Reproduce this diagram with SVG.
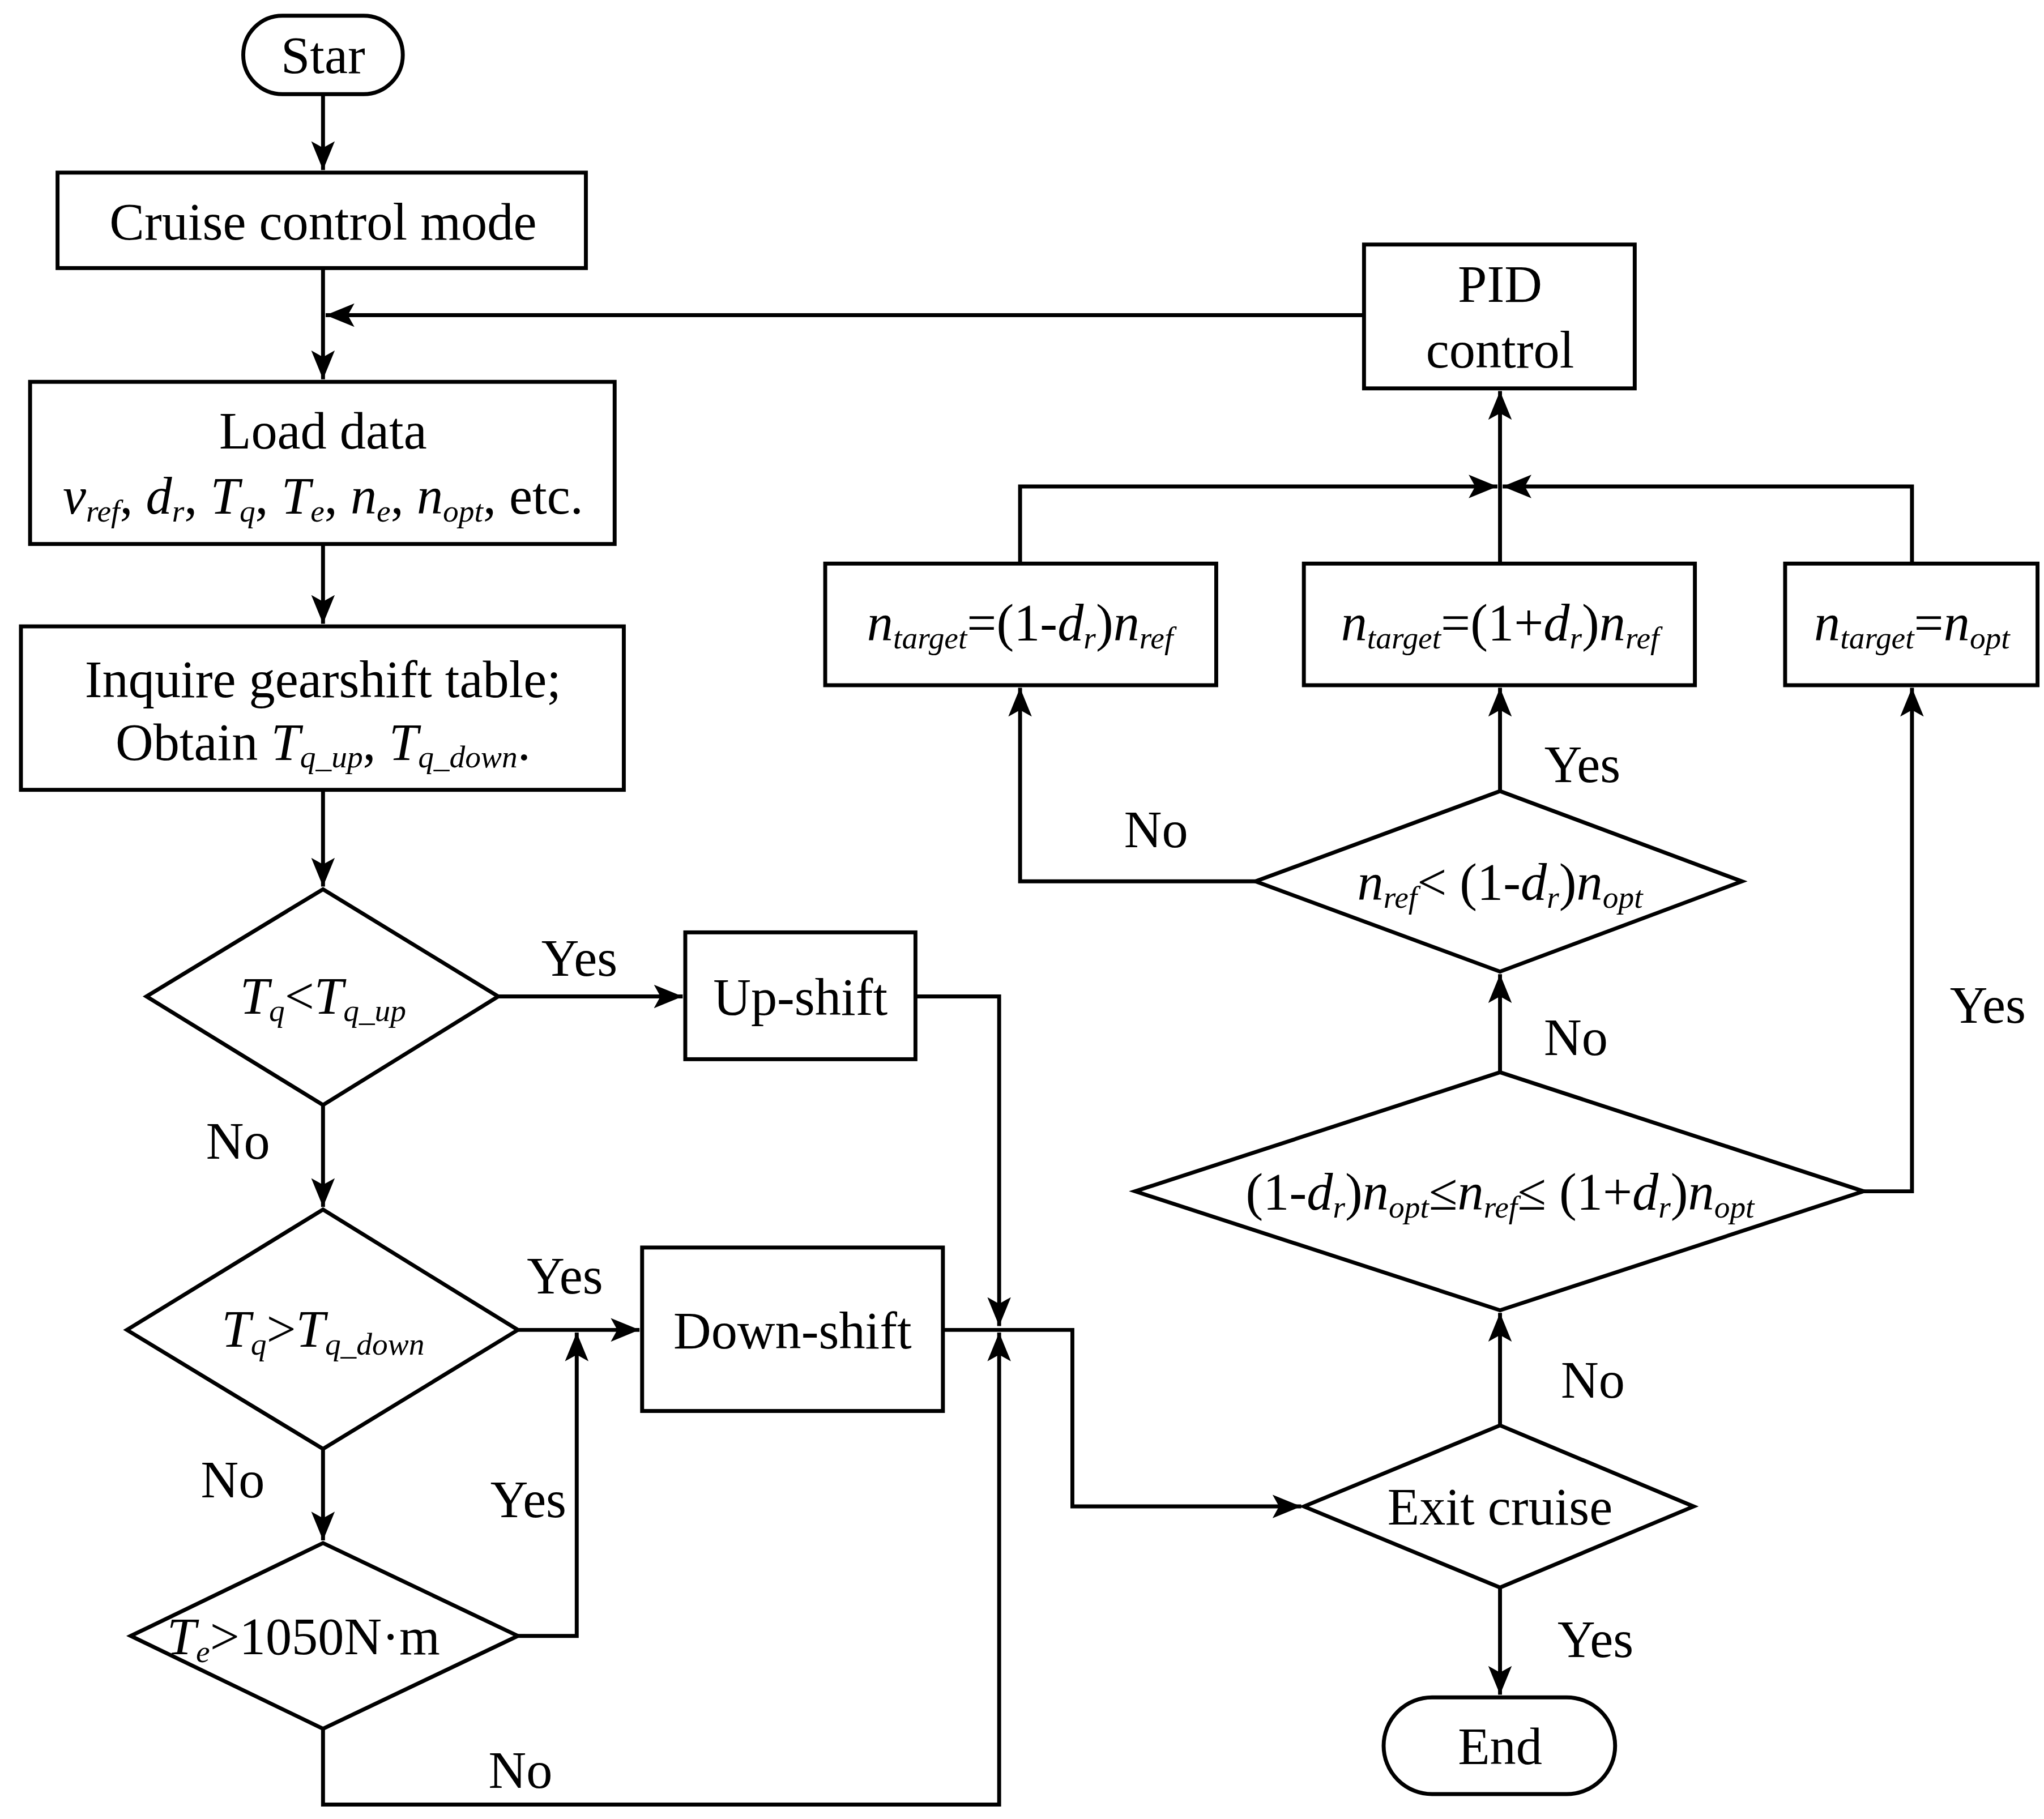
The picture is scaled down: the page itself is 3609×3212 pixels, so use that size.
<svg xmlns="http://www.w3.org/2000/svg" width="3609" height="3212" viewBox="0 0 3609 3212">
<style>
.s{fill:#fff;stroke:#000;stroke-width:3}
.c{fill:none;stroke:#000;stroke-width:3}
text{font-family:"Liberation Serif",serif;font-size:40px;fill:#000;text-anchor:middle}
.i{font-style:italic}
.b{font-size:24px}
</style>
<defs>
<marker id="a" markerUnits="userSpaceOnUse" viewBox="-22 -10 24 20" refX="0" refY="0" markerWidth="24" markerHeight="20" orient="auto">
<path d="M0,0 L-22,-9 L-17,0 L-22,9 Z" fill="#000"/>
</marker>
</defs>
<rect width="3609" height="3212" fill="#fff"/>
<g transform="scale(2.3091)">
<g id="connectors" class="c">
<path d="M247,72 V130" marker-end="url(#a)"/>
<path d="M247,205 V290" marker-end="url(#a)"/>
<path d="M1043,241 H249" marker-end="url(#a)"/>
<path d="M247,416 V477" marker-end="url(#a)"/>
<path d="M247,604 V678" marker-end="url(#a)"/>
<path d="M381,762 H522" marker-end="url(#a)"/>
<path d="M700,762 H764 V1014" marker-end="url(#a)"/>
<path d="M247,845 V923" marker-end="url(#a)"/>
<path d="M396,1017 H489" marker-end="url(#a)"/>
<path d="M721,1017 H820 V1152 H995" marker-end="url(#a)"/>
<path d="M247,1108 V1178" marker-end="url(#a)"/>
<path d="M396,1251 H441 V1019" marker-end="url(#a)"/>
<path d="M247,1322 V1380 H764 V1019" marker-end="url(#a)"/>
<path d="M1147,1214 V1296" marker-end="url(#a)"/>
<path d="M1147,1090 V1004" marker-end="url(#a)"/>
<path d="M1425,911 H1462 V526" marker-end="url(#a)"/>
<path d="M1147,820 V745" marker-end="url(#a)"/>
<path d="M1147,605 V526" marker-end="url(#a)"/>
<path d="M960,674 H780 V526" marker-end="url(#a)"/>
<path d="M780,431 V372 H1145" marker-end="url(#a)"/>
<path d="M1462,431 V372 H1149" marker-end="url(#a)"/>
<path d="M1147,431 V299" marker-end="url(#a)"/>
</g>
<g id="labels">
<text x="443" y="746">Yes</text>
<text x="182" y="886">No</text>
<text x="432" y="989">Yes</text>
<text x="178" y="1145">No</text>
<text x="404" y="1160">Yes</text>
<text x="398" y="1367">No</text>
<text x="1220" y="1267">Yes</text>
<text x="1218" y="1069">No</text>
<text x="1520" y="782">Yes</text>
<text x="1205" y="807">No</text>
<text x="1210" y="598">Yes</text>
<text x="884" y="648">No</text>
</g>
<g id="start"><rect class="s" x="186" y="12" width="122" height="60" rx="30"/><text x="247" y="56">Star</text></g>
<g id="cruise"><rect class="s" x="44" y="132" width="404" height="73"/><text x="247" y="183">Cruise control mode</text></g>
<g id="pid"><rect class="s" x="1043" y="187" width="207" height="110"/><text x="1147" y="231">PID</text><text x="1147" y="281">control</text></g>
<g id="load"><rect class="s" x="23" y="292" width="447" height="124"/><text x="247" y="343">Load data</text>
<text x="247" y="393"><tspan class="i">v</tspan><tspan class="i b" dy="6">ref</tspan><tspan dy="-6">, </tspan><tspan class="i">d</tspan><tspan class="i b" dy="6">r</tspan><tspan dy="-6">, </tspan><tspan class="i">T</tspan><tspan class="i b" dy="6">q</tspan><tspan dy="-6">, </tspan><tspan class="i">T</tspan><tspan class="i b" dy="6">e</tspan><tspan dy="-6">, </tspan><tspan class="i">n</tspan><tspan class="i b" dy="6">e</tspan><tspan dy="-6">, </tspan><tspan class="i">n</tspan><tspan class="i b" dy="6">opt</tspan><tspan dy="-6">, etc.</tspan></text></g>
<g id="inquire"><rect class="s" x="16" y="479" width="461" height="125"/><text x="247" y="533">Inquire gearshift table;</text>
<text x="247" y="581">Obtain <tspan class="i">T</tspan><tspan class="i b" dy="6">q_up</tspan><tspan dy="-6">, </tspan><tspan class="i">T</tspan><tspan class="i b" dy="6">q_down</tspan><tspan dy="-6">.</tspan></text></g>
<g id="d1"><path class="s" d="M112,762 L247,680 L381,762 L247,845 Z"/><text x="247" y="775"><tspan class="i">T</tspan><tspan class="i b" dy="6">q</tspan><tspan dy="-6">&lt;</tspan><tspan class="i">T</tspan><tspan class="i b" dy="6">q_up</tspan></text></g>
<g id="upshift"><rect class="s" x="524" y="713" width="176" height="97"/><text x="612" y="776">Up-shift</text></g>
<g id="d2"><path class="s" d="M97,1017 L247,925 L396,1017 L247,1108 Z"/><text x="247" y="1030"><tspan class="i">T</tspan><tspan class="i b" dy="6">q</tspan><tspan dy="-6">&gt;</tspan><tspan class="i">T</tspan><tspan class="i b" dy="6">q_down</tspan></text></g>
<g id="downshift"><rect class="s" x="491" y="954" width="230" height="125"/><text x="606" y="1031">Down-shift</text></g>
<g id="d3"><path class="s" d="M100,1251 L247,1180 L396,1251 L247,1322 Z"/><text x="232" y="1265"><tspan class="i">T</tspan><tspan class="i b" dy="6">e</tspan><tspan dy="-6">&gt;1050N·m</tspan></text></g>
<g id="exit"><path class="s" d="M997,1152 L1147,1090 L1295,1152 L1147,1214 Z"/><text x="1147" y="1166">Exit cruise</text></g>
<g id="end"><rect class="s" x="1058" y="1298" width="177" height="74" rx="37"/><text x="1147" y="1349">End</text></g>
<g id="d4"><path class="s" d="M868,911 L1147,820 L1425,911 L1147,1002 Z"/><text x="1147" y="925">(1-<tspan class="i">d</tspan><tspan class="i b" dy="6">r</tspan><tspan dy="-6">)</tspan><tspan class="i">n</tspan><tspan class="i b" dy="6">opt</tspan><tspan dy="-6">≤</tspan><tspan class="i">n</tspan><tspan class="i b" dy="6">ref</tspan><tspan dy="-6">≤ (1+</tspan><tspan class="i">d</tspan><tspan class="i b" dy="6">r</tspan><tspan dy="-6">)</tspan><tspan class="i">n</tspan><tspan class="i b" dy="6">opt</tspan></text></g>
<g id="d5"><path class="s" d="M960,674 L1147,605 L1332,674 L1147,743 Z"/><text x="1147" y="688"><tspan class="i">n</tspan><tspan class="i b" dy="6">ref</tspan><tspan dy="-6">&lt; (1-</tspan><tspan class="i">d</tspan><tspan class="i b" dy="6">r</tspan><tspan dy="-6">)</tspan><tspan class="i">n</tspan><tspan class="i b" dy="6">opt</tspan></text></g>
<g id="boxA"><rect class="s" x="631" y="431" width="299" height="93"/><text x="780" y="490"><tspan class="i">n</tspan><tspan class="i b" dy="6">target</tspan><tspan dy="-6">=(1-</tspan><tspan class="i">d</tspan><tspan class="i b" dy="6">r</tspan><tspan dy="-6">)</tspan><tspan class="i">n</tspan><tspan class="i b" dy="6">ref</tspan></text></g>
<g id="boxB"><rect class="s" x="997" y="431" width="299" height="93"/><text x="1147" y="490"><tspan class="i">n</tspan><tspan class="i b" dy="6">target</tspan><tspan dy="-6">=(1+</tspan><tspan class="i">d</tspan><tspan class="i b" dy="6">r</tspan><tspan dy="-6">)</tspan><tspan class="i">n</tspan><tspan class="i b" dy="6">ref</tspan></text></g>
<g id="boxC"><rect class="s" x="1365" y="431" width="193" height="93"/><text x="1462" y="490"><tspan class="i">n</tspan><tspan class="i b" dy="6">target</tspan><tspan dy="-6">=</tspan><tspan class="i">n</tspan><tspan class="i b" dy="6">opt</tspan></text></g>
</g>
</svg>
